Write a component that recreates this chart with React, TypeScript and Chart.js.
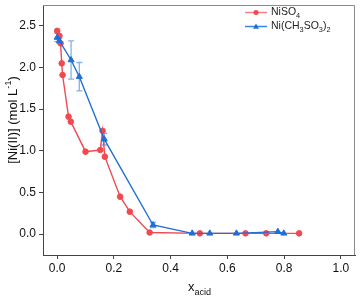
import React, { useEffect, useRef } from 'react';
import { Chart, registerables } from 'chart.js';
Chart.register(...registerables);

const xTicks = [0, 0.2, 0.4, 0.6, 0.8, 1.0];
const yTicks = [0, 0.5, 1.0, 1.5, 2.0, 2.5];

const niso4X = [0.0, 0.008, 0.012, 0.016, 0.019, 0.04, 0.048, 0.1, 0.152, 0.16, 0.168, 0.222, 0.256, 0.326, 0.503, 0.664, 0.737, 0.853];
const niso4Y = [2.44, 2.38, 2.29, 2.05, 1.91, 1.41, 1.35, 0.99, 1.01, 1.24, 0.93, 0.45, 0.27, 0.02, 0.01, 0.01, 0.01, 0.01];

const nimsaX = [0.0, 0.008, 0.049, 0.078, 0.166, 0.338, 0.476, 0.538, 0.632, 0.778, 0.799];
const nimsaY = [2.36, 2.32, 2.09, 1.89, 1.14, 0.11, 0.01, 0.01, 0.01, 0.03, 0.01];
const nimsaErr = [0.05, 0.03, 0.23, 0.17, 0.07, 0.03, 0, 0, 0, 0, 0];

const RED = '#f04a50';
const BLUE = '#1f6fd6';
const ERR = '#86b0ea';
const FONT = '"Liberation Sans", Arial, sans-serif';

type Seg = { t: string; s: number };

function drawSegs(ctx: CanvasRenderingContext2D, segs: Seg[], x: number, y: number, size: number) {
  let cx = x;
  for (const sg of segs) {
    const fs = sg.s === 0 ? size : size * 0.7;
    ctx.font = `${fs}px ${FONT}`;
    const dy = sg.s === 1 ? size * 0.3 : sg.s === -1 ? -size * 0.38 : 0;
    ctx.fillText(sg.t, cx, y + dy);
    cx += ctx.measureText(sg.t).width;
  }
  return cx - x;
}

function segsWidth(ctx: CanvasRenderingContext2D, segs: Seg[], size: number) {
  let w = 0;
  for (const sg of segs) {
    const fs = sg.s === 0 ? size : size * 0.7;
    ctx.font = `${fs}px ${FONT}`;
    w += ctx.measureText(sg.t).width;
  }
  return w;
}

const legendItems: { segs: Seg[]; color: string; line: string; style: string }[] = [
  { segs: [{ t: 'NiSO', s: 0 }, { t: '4', s: 1 }], color: RED, line: '#ff7f80', style: 'circle' },
  { segs: [{ t: 'Ni(CH', s: 0 }, { t: '3', s: 1 }, { t: 'SO', s: 0 }, { t: '3', s: 1 }, { t: ')', s: 0 }, { t: '2', s: 1 }], color: BLUE, line: '#3a84e6', style: 'triangle' },
];

const yTitle: Seg[] = [{ t: '[Ni(II)] (mol L', s: 0 }, { t: '-1', s: -1 }, { t: ')', s: 0 }];
const xTitle: Seg[] = [{ t: 'x', s: 0 }, { t: 'acid', s: 1 }];

const customPlugin = {
  id: 'custom',
  beforeDatasetsDraw(chart: any) {
    const ctx = chart.ctx as CanvasRenderingContext2D;
    const xs = chart.scales.x;
    const ys = chart.scales.y;
    ctx.save();
    ctx.strokeStyle = ERR;
    ctx.lineWidth = 1.3;
    nimsaX.forEach((xv, i) => {
      const e = nimsaErr[i];
      if (!e) return;
      const px = xs.getPixelForValue(xv);
      const p1 = ys.getPixelForValue(nimsaY[i] + e);
      const p2 = ys.getPixelForValue(nimsaY[i] - e);
      ctx.beginPath();
      ctx.moveTo(px, p1);
      ctx.lineTo(px, p2);
      ctx.moveTo(px - 3, p1);
      ctx.lineTo(px + 3, p1);
      ctx.moveTo(px - 3, p2);
      ctx.lineTo(px + 3, p2);
      ctx.stroke();
    });
    ctx.restore();
  },
  afterDraw(chart: any) {
    const ctx = chart.ctx as CanvasRenderingContext2D;
    const a = chart.chartArea;
    ctx.save();
    // frame top/right
    ctx.strokeStyle = '#8a8a8a';
    ctx.lineWidth = 1;
    ctx.beginPath();
    ctx.moveTo(a.left, Math.round(a.top) + 0.5);
    ctx.lineTo(Math.round(a.right) - 0.5, Math.round(a.top) + 0.5);
    ctx.lineTo(Math.round(a.right) - 0.5, a.bottom);
    ctx.stroke();

    // legend
    ctx.textBaseline = 'middle';
    ctx.textAlign = 'left';
    legendItems.forEach((it, i) => {
      const y = 12.5 + i * 14;
      ctx.strokeStyle = it.line;
      ctx.lineWidth = 1.5;
      ctx.beginPath();
      ctx.moveTo(245, y);
      ctx.lineTo(267, y);
      ctx.stroke();
      ctx.fillStyle = it.color;
      ctx.beginPath();
      if (it.style === 'circle') {
        ctx.arc(256, y, 2.5, 0, Math.PI * 2);
      } else {
        ctx.moveTo(256, y - 3);
        ctx.lineTo(259, y + 2.2);
        ctx.lineTo(253, y + 2.2);
        ctx.closePath();
      }
      ctx.fill();
      ctx.fillStyle = '#222';
      drawSegs(ctx, it.segs, 271, y, 10.5);
    });

    // x title
    ctx.fillStyle = '#111';
    ctx.textBaseline = 'alphabetic';
    drawSegs(ctx, xTitle, 188, 291, 13);

    // y title
    const w = segsWidth(ctx, yTitle, 13);
    ctx.translate(13, 120);
    ctx.rotate(-Math.PI / 2);
    ctx.textBaseline = 'middle';
    drawSegs(ctx, yTitle, -w / 2, 0, 13);
    ctx.restore();
  },
};

export default function App() {
  const ref = useRef<HTMLCanvasElement>(null);
  useEffect(() => {
    document.body.style.margin = '0';
    const canvas = ref.current!;
    const chart = new Chart(canvas, {
      type: 'line',
      data: {
        datasets: [
          {
            label: 'Ni(CH3SO3)2',
            data: nimsaX.map((x, i) => ({ x, y: nimsaY[i] })),
            borderColor: BLUE,
            backgroundColor: BLUE,
            borderWidth: 1.4,
            pointStyle: 'triangle',
            pointRadius: 3.5,
            pointBorderWidth: 1,
            order: 0,
          },
          {
            label: 'NiSO4',
            data: niso4X.map((x, i) => ({ x, y: niso4Y[i] })),
            borderColor: RED,
            backgroundColor: RED,
            borderWidth: 1.4,
            pointStyle: 'circle',
            pointRadius: 2.8,
            pointBorderWidth: 1,
            order: 1,
          },
        ],
      },
      options: {
        responsive: false,
        animation: false,
        layout: { padding: { left: 0, top: 2, right: 4, bottom: 0 } },
        plugins: { legend: { display: false }, tooltip: { enabled: false } },
        scales: {
          x: {
            type: 'linear',
            min: -0.05,
            max: 1.05,
            afterFit: (s: any) => { s.height = 43; s.paddingLeft = 0; s.paddingRight = 0; },
            afterBuildTicks: (s: any) => { s.ticks = xTicks.map((v) => ({ value: v })); },
            ticks: {
              callback: (v: any) => Number(v).toFixed(1),
              font: { family: FONT, size: 12 },
              color: '#111',
              padding: 2,
              maxRotation: 0,
            },
            grid: { display: true, drawOnChartArea: false, drawTicks: true, tickLength: 4, color: '#444' },
            border: { display: true, color: '#444', width: 1 },
          },
          y: {
            type: 'linear',
            min: -0.25,
            max: 2.75,
            afterFit: (s: any) => { s.width = 43; s.paddingTop = 0; s.paddingBottom = 0; },
            afterBuildTicks: (s: any) => { s.ticks = yTicks.map((v) => ({ value: v })); },
            ticks: {
              callback: (v: any) => Number(v).toFixed(1),
              font: { family: FONT, size: 12 },
              color: '#111',
              padding: 3,
            },
            grid: { display: true, drawOnChartArea: false, drawTicks: true, tickLength: 4, color: '#444' },
            border: { display: true, color: '#444', width: 1 },
          },
        },
      },
      plugins: [customPlugin],
    } as any);
    return () => chart.destroy();
  }, []);
  return (
    <div style={{ position: 'fixed', left: 0, top: 0, width: 360, height: 298, background: '#fff' }}>
      <canvas ref={ref} width={360} height={298} style={{ width: 360, height: 298, display: 'block' }} />
    </div>
  );
}
